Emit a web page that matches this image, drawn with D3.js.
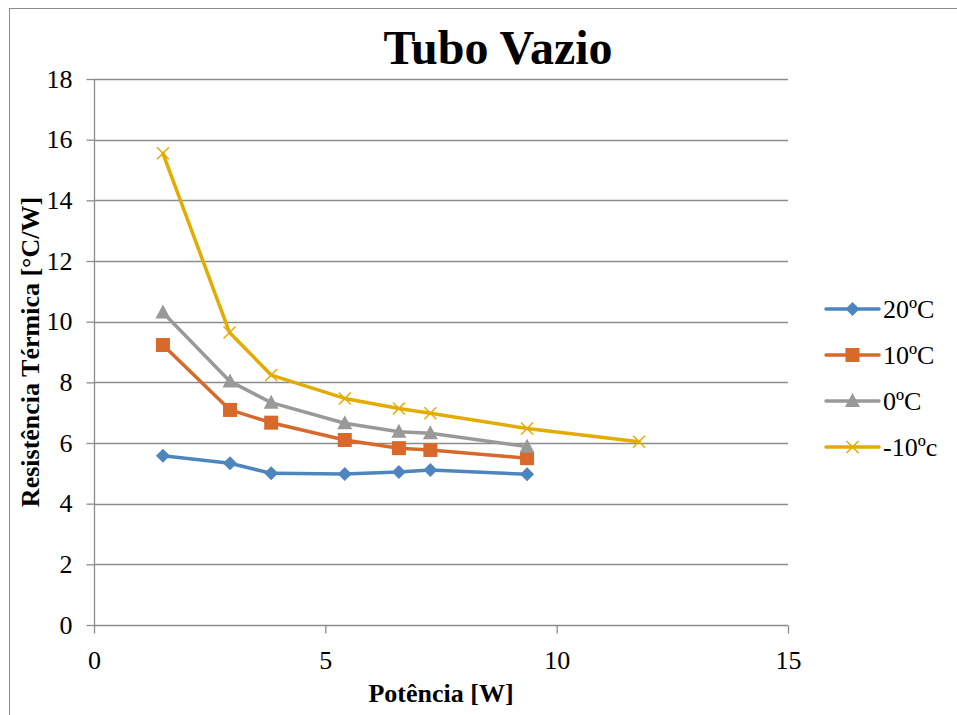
<!DOCTYPE html>
<html>
<head>
<meta charset="utf-8">
<script src="https://cdn.jsdelivr.net/npm/d3@7/dist/d3.min.js"></script>
<style>
  html, body { margin: 0; padding: 0; background: #fff; }
  svg { display: block; }
  text { font-family: "Liberation Serif", "Times New Roman", serif; fill: #000; }
</style>
</head>
<body>
<svg id="chart" width="957" height="715"></svg>
<script>
// Thermal resistance of the empty tube versus applied power
const potencia = [1.49, 2.94, 3.83, 5.42, 6.59, 7.27, 9.36];
const potenciaFrio = [1.49, 2.93, 3.83, 5.42, 6.59, 7.27, 9.36, 11.78];

const r20 = [5.58, 5.33, 5.00, 4.98, 5.04, 5.11, 4.97];
const r10 = [9.23, 7.09, 6.67, 6.10, 5.83, 5.77, 5.50];
const r0 = [10.30, 8.03, 7.33, 6.65, 6.37, 6.32, 5.88];
const rMenos10 = [15.55, 9.64, 8.24, 7.47, 7.14, 6.98, 6.48, 6.04];

const seriesNames = ["20ºC", "10ºC", "0ºC", "-10ºc"];
const seriesColors = ["#4d85bf", "#d8692b", "#999999", "#e4ac00"];
const markerKinds = ["diamond", "square", "triangle", "cross"];

const xTicks = [0, 5, 10, 15];
const yTicks = [0, 2, 4, 6, 8, 10, 12, 14, 16, 18];

const series = [
  { name: seriesNames[0], xs: potencia, ys: r20 },
  { name: seriesNames[1], xs: potencia, ys: r10 },
  { name: seriesNames[2], xs: potencia, ys: r0 },
  { name: seriesNames[3], xs: potenciaFrio, ys: rMenos10 }
].map((s, i) => ({ ...s, color: seriesColors[i], kind: markerKinds[i] }));

const svg = d3.select("#chart");

// chart frame
svg.append("rect")
  .attr("x", 9.5).attr("y", 8.5)
  .attr("width", 1000).attr("height", 800)
  .attr("fill", "#fff").attr("stroke", "#8c8c8c").attr("stroke-width", 1);

const plot = { left: 94, right: 788, top: 79, bottom: 625 };

const x = d3.scaleLinear().domain([0, 15]).range([plot.left, plot.right]);
const y = d3.scaleLinear().domain([0, 18]).range([plot.bottom, plot.top]);

// horizontal gridlines
svg.append("g")
  .selectAll("line")
  .data(yTicks.filter(t => t > 0))
  .join("line")
  .attr("x1", plot.left).attr("x2", plot.right)
  .attr("y1", d => Math.round(y(d)) + 0.5).attr("y2", d => Math.round(y(d)) + 0.5)
  .attr("stroke", "#8c8c8c").attr("stroke-width", 1.3);

// y axis
const yAxis = svg.append("g")
  .attr("transform", `translate(${plot.left + 0.5},0)`)
  .call(d3.axisLeft(y).tickValues(yTicks).tickSize(8).tickPadding(14).tickFormat(d3.format("d")));
yAxis.selectAll("path, line").attr("stroke", "#8c8c8c").attr("stroke-width", 1.3);
yAxis.select(".domain").attr("d", `M0,${plot.top}V${plot.bottom}`);
yAxis.selectAll("text")
  .attr("font-family", "Liberation Serif, serif")
  .attr("font-size", 26).attr("fill", "#000");

// x axis
const xAxis = svg.append("g")
  .attr("transform", `translate(0,${plot.bottom + 0.5})`)
  .call(d3.axisBottom(x).tickValues(xTicks).tickSize(8).tickPadding(17).tickFormat(d3.format("d")));
xAxis.selectAll("path, line").attr("stroke", "#8c8c8c").attr("stroke-width", 1.3);
xAxis.select(".domain").attr("d", `M${plot.left},0H${plot.right}`);
xAxis.selectAll("text")
  .attr("font-family", "Liberation Serif, serif")
  .attr("font-size", 26).attr("fill", "#000");

// series lines
const line = d3.line().x(d => x(d[0])).y(d => y(d[1]));

function drawMarker(g, kind, color) {
  if (kind === "diamond") {
    g.append("path").attr("d", "M0,-7L7,0L0,7L-7,0Z").attr("fill", color);
  } else if (kind === "square") {
    g.append("rect").attr("x", -7).attr("y", -7).attr("width", 14).attr("height", 14).attr("fill", color);
  } else if (kind === "triangle") {
    g.append("path").attr("d", "M0,-8L7.5,6L-7.5,6Z").attr("fill", color);
  } else {
    g.append("path").attr("d", "M-6,-6L6,6M-6,6L6,-6")
      .attr("stroke", color).attr("stroke-width", 1.5).attr("fill", "none");
  }
}

series.forEach(s => {
  const pts = s.xs.map((v, i) => [v, s.ys[i]]);
  svg.append("path")
    .datum(pts)
    .attr("d", line)
    .attr("fill", "none")
    .attr("stroke", s.color)
    .attr("stroke-width", 3.5)
    .attr("stroke-linejoin", "round")
    .attr("stroke-linecap", "round");
  svg.append("g")
    .selectAll("g")
    .data(pts)
    .join("g")
    .attr("transform", d => `translate(${x(d[0])},${y(d[1])})`)
    .each(function () { drawMarker(d3.select(this), s.kind, s.color); });
});

// legend
const legend = svg.append("g").attr("transform", "translate(826,309)");
series.forEach((s, i) => {
  const g = legend.append("g").attr("transform", `translate(0,${i * 46})`);
  g.append("line").attr("x1", 0).attr("x2", 53).attr("y1", 0).attr("y2", 0)
    .attr("stroke", s.color).attr("stroke-width", 3.5).attr("stroke-linecap", "round");
  drawMarker(g.append("g").attr("transform", "translate(26.5,0)"), s.kind, s.color);
  g.append("text").attr("x", 57).attr("y", 9)
    .attr("font-size", 26).text(s.name);
});

// title
svg.append("text")
  .attr("x", 498).attr("y", 64)
  .attr("text-anchor", "middle")
  .attr("font-size", 48).attr("font-weight", "bold")
  .text("Tubo Vazio");

// axis titles
svg.append("text")
  .attr("x", 441).attr("y", 702)
  .attr("text-anchor", "middle")
  .attr("font-size", 26).attr("font-weight", "bold")
  .text("Potência [W]");

svg.append("text")
  .attr("transform", "translate(39,352) rotate(-90)")
  .attr("text-anchor", "middle")
  .attr("font-size", 26).attr("font-weight", "bold")
  .text("Resistência Térmica [°C/W]");
</script>
</body>
</html>
